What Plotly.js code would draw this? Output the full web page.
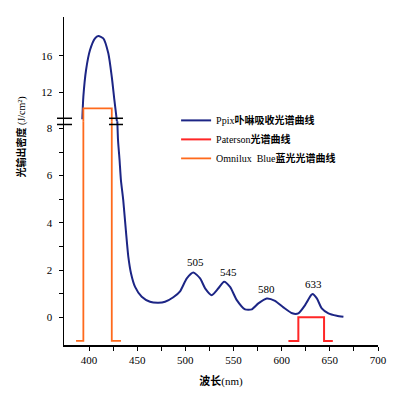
<!DOCTYPE html>
<html>
<head>
<meta charset="utf-8">
<script src="https://cdn.plot.ly/plotly-3.0.1.min.js"></script>
<style>html,body{margin:0;padding:0;background:#fff;}#chart{width:394px;height:394px;}</style>
</head>
<body>
<div id="chart"></div>
<script>
// Ppix absorption curve (wavelength nm, relative value)
const ppixX = [393.0, 394.1, 396.9, 401.0, 406.2, 409.7, 414.8, 420.0, 423.6, 426.3, 428.8,
  430.1, 431.7, 433.1, 435.5, 438.2, 440.8, 443.6, 447.8, 454.7, 463.3, 472.0, 478.9,
  487.5, 494.5, 501.5, 508.3, 515.3, 520.5, 527.4, 534.3, 540.2, 546.4, 553.4, 562.0,
  569.0, 575.8, 584.5, 593.1, 601.8, 611.0, 617.3, 624.3, 630.5, 632.0, 636.5, 641.6,
  648.5, 657.2, 664.1];
const ppixY = [9.05, 11.52, 14.44, 16.62, 17.90, 18.15, 17.90, 16.26, 13.70, 11.16, 8.97,
  7.50, 6.65, 5.81, 4.96, 3.69, 2.56, 1.86, 1.29, 0.87, 0.66, 0.62, 0.66,
  0.85, 1.10, 1.65, 1.90, 1.65, 1.23, 0.94, 1.23, 1.51, 1.29, 0.73, 0.34,
  0.34, 0.59, 0.80, 0.70, 0.42, 0.17, 0.17, 0.52, 0.94, 0.99, 0.80, 0.38,
  0.17, 0.07, 0.03];
// Paterson light spectrum
const patersonX = [607.0, 617.3, 617.3, 644.0, 644.0, 653.1];
const patersonY = [-1, -1, 0, 0, -1, -1];
// Omnilux Blue light spectrum
const omniluxX = [386.5, 394.1, 394.1, 423.6, 423.6, 433.2];
const omniluxY = [-1, -1, 10.25, 10.25, -1, -1];

const seriesNames = ['Ppix<b>卟啉吸收光谱曲线</b>', 'Paterson<b>光谱曲线</b>', 'Omnilux\u00a0 Blue<b>蓝光光谱曲线</b>'];
const peakLabels = ['505', '545', '580', '633'];
const peakX = [511.0, 544.3, 583.8, 632.6];
const peakY = [2.34, 1.92, 1.20, 1.41];

const xTickVals = [400, 425, 450, 475, 500, 525, 550, 575, 600, 625, 650, 675, 700];
const xTickText = ['400', '', '450', '', '500', '', '550', '', '600', '', '650', '', '700'];
const yLowTickVals = [0, 1, 2, 3, 4, 5, 6, 7, 8];
const yLowTickText = ['0', '', '2', '', '4', '', '6', '', '8'];
const yHighTickVals = [12, 16];
const yHighTickText = ['12', '16'];

const xTitle = '<b>波长</b>(nm)';
const yTitle = '<b>光输出密度</b> (J/cm²)';

const BLUE = '#1c2585', RED = '#ff2626', ORANGE = '#ff6a1c';
const SERIF = 'Liberation Serif, Noto Sans CJK SC, serif';

const blueLine = {color: BLUE, width: 2, shape: 'spline', smoothing: 0.6};
const traces = [
  {x: ppixX, y: ppixY, xaxis: 'x', yaxis: 'y', mode: 'lines', name: seriesNames[0], line: blueLine},
  {x: patersonX, y: patersonY, xaxis: 'x', yaxis: 'y', mode: 'lines', name: seriesNames[1],
   line: {color: RED, width: 2}},
  {x: omniluxX, y: omniluxY, xaxis: 'x', yaxis: 'y', mode: 'lines', name: seriesNames[2],
   line: {color: ORANGE, width: 1.8}},
  {x: ppixX, y: ppixY, xaxis: 'x', yaxis: 'y2', mode: 'lines', showlegend: false, line: blueLine},
  {x: omniluxX, y: omniluxY, xaxis: 'x', yaxis: 'y2', mode: 'lines', showlegend: false,
   line: {color: ORANGE, width: 1.8}}
];

const brk = 0.682;
const axisCommon = {showline: true, linecolor: '#000', linewidth: 1.5, ticks: 'outside',
  ticklen: 4, tickwidth: 1, tickcolor: '#000', showgrid: false, zeroline: false,
  tickfont: {family: SERIF, size: 11, color: '#000'}, fixedrange: true};

const layout = {
  width: 394, height: 394,
  margin: {l: 64, r: 16, t: 17, b: 49},
  paper_bgcolor: '#fff', plot_bgcolor: '#fff',
  showlegend: true,
  legend: {x: 0.357, y: 0.729, xanchor: 'left', yanchor: 'top', bgcolor: 'rgba(0,0,0,0)',
    font: {family: SERIF, size: 10, color: '#000'}, tracegroupgap: 0},
  xaxis: Object.assign({}, axisCommon, {range: [374, 700], anchor: 'y',
    tickmode: 'array', tickvals: xTickVals, ticktext: xTickText,
    title: {text: xTitle, font: {family: SERIF, size: 11, color: '#000'}, standoff: 12}}),
  yaxis: Object.assign({}, axisCommon, {domain: [0, brk], range: [-1.171, 8.3], anchor: 'x',
    tickmode: 'array', tickvals: yLowTickVals, ticktext: yLowTickText, ticklabelstandoff: 4}),
  yaxis2: Object.assign({}, axisCommon, {domain: [brk, 1], range: [8.83, 20.23], anchor: 'x',
    tickmode: 'array', tickvals: yHighTickVals, ticktext: yHighTickText, ticklabelstandoff: 4}),
  annotations: peakLabels.map((t, i) => ({x: peakX[i], y: peakY[i], xref: 'x', yref: 'y',
    text: t, showarrow: false, font: {family: SERIF, size: 11, color: '#000'}})).concat([
    {x: -0.1338, y: 0.6357, xref: 'paper', yref: 'paper', xanchor: 'center', yanchor: 'middle',
     text: yTitle, textangle: -90, showarrow: false, font: {family: SERIF, size: 10, color: '#000'}}
  ]),
  shapes: [
    {type: 'line', xref: 'paper', yref: 'paper', x0: -0.0223, x1: 0.0255, y0: 0.6912, y1: 0.6912, line: {color: '#000', width: 1.5}},
    {type: 'line', xref: 'paper', yref: 'paper', x0: -0.0223, x1: 0.0255, y0: 0.6723, y1: 0.6723, line: {color: '#000', width: 1.5}},
    {type: 'line', xref: 'paper', yref: 'paper', x0: 0.1433, x1: 0.1879, y0: 0.6912, y1: 0.6912, line: {color: '#000', width: 1.5}},
    {type: 'line', xref: 'paper', yref: 'paper', x0: 0.1433, x1: 0.1879, y0: 0.6723, y1: 0.6723, line: {color: '#000', width: 1.5}}
  ]
};

Plotly.newPlot('chart', traces, layout, {displayModeBar: false, staticPlot: true});
</script>
</body>
</html>
